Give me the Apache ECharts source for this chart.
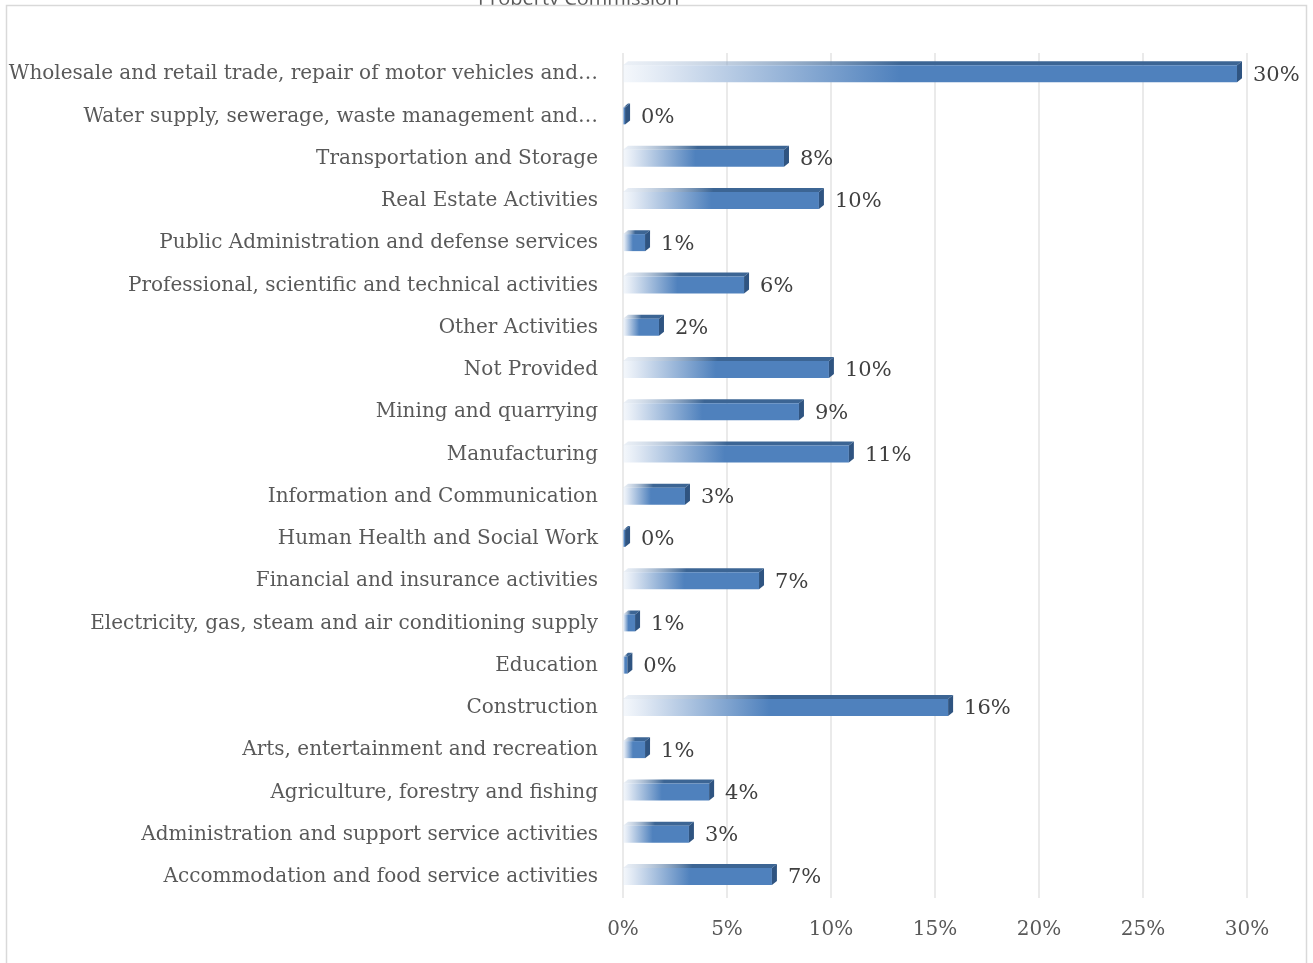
<!DOCTYPE html>
<html>
<head>
<meta charset="utf-8">
<script src="https://cdn.jsdelivr.net/npm/echarts@6/dist/echarts.min.js"></script>
<style>html,body{margin:0;padding:0;background:#fff;}#c{width:1313px;height:963px;}</style>
</head>
<body>
<div id="c"></div>
<script>
const categories = [
  "Wholesale and retail trade, repair of motor vehicles and…",
  "Water supply, sewerage, waste management and…",
  "Transportation and Storage",
  "Real Estate Activities",
  "Public Administration and defense services",
  "Professional, scientific and technical activities",
  "Other Activities",
  "Not Provided",
  "Mining and quarrying",
  "Manufacturing",
  "Information and Communication",
  "Human Health and Social Work",
  "Financial and insurance activities",
  "Electricity, gas, steam and air conditioning supply",
  "Education",
  "Construction",
  "Arts, entertainment and recreation",
  "Agriculture, forestry and fishing",
  "Administration and support service activities",
  "Accommodation and food service activities"
];
const shares = [29.76, 0.34, 7.98, 9.66, 1.3, 6.06, 1.97, 10.14, 8.7, 11.1, 3.22, 0.34, 6.78, 0.82, 0.45, 15.87, 1.3, 4.38, 3.41, 7.4];
const xTicks = [0, 5, 10, 15, 20, 25, 30];
const chartTitle = "Property Commission";

const serif = "'DejaVu Serif', serif";
const chart = echarts.init(document.getElementById('c'));

function renderBar(params, api) {
  const idx = api.value(0);
  const val = api.value(1);
  const p0 = api.coord([0, idx]);
  const p1 = api.coord([val, idx]);
  const x0 = p0[0], xe = p1[0], cy = p0[1];
  const d = 5;
  const fT = cy - 9, fB = cy + 8, bT = fT - 4;
  const xf = Math.max(x0 + 1, xe - d);
  const frontGrad = new echarts.graphic.LinearGradient(0, 0, 1, 0, [
    {offset: 0, color: 'rgba(225,234,245,0.35)'},
    {offset: 0.07, color: 'rgba(222,231,243,1)'},
    {offset: 0.45, color: '#4f81bd'},
    {offset: 1, color: '#4f81bd'}
  ]);
  const topGrad = new echarts.graphic.LinearGradient(0, 0, 1, 0, [
    {offset: 0, color: 'rgba(200,214,232,0.35)'},
    {offset: 0.45, color: '#3c6594'},
    {offset: 1, color: '#3c6594'}
  ]);
  return {
    type: 'group',
    children: [
      {type: 'polygon', shape: {points: [[x0, fT], [xf, fT], [xe, bT], [x0 + d, bT]]},
       style: {fill: topGrad}},
      {type: 'rect', shape: {x: x0, y: fT, width: xf - x0, height: fB - fT},
       style: {fill: frontGrad}},
      {type: 'polygon', shape: {points: [[xf, fT], [xe, bT], [xe, fB - 4], [xf, fB]]},
       style: {fill: '#2f5481'}},
      {type: 'text', style: {text: Math.round(val) + '%', x: xe + 11, y: cy + 1,
        verticalAlign: 'middle', fill: '#404040', font: "21px 'DejaVu Serif', serif"}}
    ]
  };
}

chart.setOption({
  animation: false,
  backgroundColor: '#fff',
  graphic: [
    {type: 'text', left: 478, top: -11,
     style: {text: chartTitle, fill: '#595959', font: "20px 'Open Sans', sans-serif"}, z: 1},
    {type: 'rect', shape: {x: 7, y: 6, width: 1299, height: 36},
     style: {fill: '#fff'}, z: 2},
    {type: 'rect', shape: {x: 6.5, y: 5.5, width: 1300, height: 1000},
     style: {fill: 'none', stroke: '#d9d9d9', lineWidth: 1.5}, z: 100}
  ],
  grid: {left: 623, right: 66, top: 53, bottom: 65, containLabel: false},
  xAxis: {
    type: 'value', min: 0, max: 30, interval: 5,
    axisLine: {show: false}, axisTick: {show: false},
    splitLine: {lineStyle: {color: '#e3e3e3', width: 1.5}},
    axisLabel: {formatter: v => xTicks.includes(v) ? v + '%' : '', color: '#595959',
      fontFamily: serif, fontSize: 20, margin: 22}
  },
  yAxis: {
    type: 'category', data: categories, inverse: true,
    axisLine: {show: false}, axisTick: {show: false},
    axisLabel: {color: '#595959', fontFamily: serif, fontSize: 20, margin: 25,
      padding: [4, 0, 0, 0]}
  },
  series: [{
    type: 'custom',
    renderItem: renderBar,
    encode: {x: 1, y: 0},
    data: shares.map((v, i) => [i, v])
  }]
});
</script>
</body>
</html>
